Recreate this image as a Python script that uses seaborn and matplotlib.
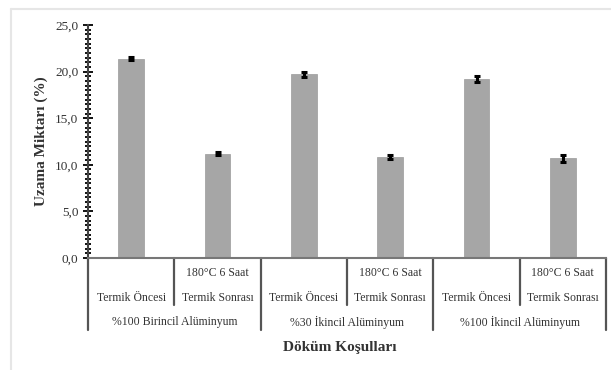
import matplotlib
matplotlib.use('Agg')
import matplotlib.pyplot as plt
import matplotlib.transforms as mtransforms
from matplotlib.ticker import MultipleLocator, FuncFormatter
import seaborn as sns
import pandas as pd

# data
bar_keys = ['A1', 'A2', 'B1', 'B2', 'C1', 'C2']
condition_top = ['', '180°C 6 Saat', '', '180°C 6 Saat', '', '180°C 6 Saat']
condition_bottom = ['Termik Öncesi', 'Termik Sonrası', 'Termik Öncesi',
                    'Termik Sonrası', 'Termik Öncesi', 'Termik Sonrası']
groups = ['%100 Birincil Alüminyum', '%30 İkincil Alüminyum', '%100 İkincil Alüminyum']
values = [21.4, 11.2, 19.7, 10.8, 19.2, 10.7]
errors = [0.2, 0.2, 0.25, 0.2, 0.3, 0.4]

df = pd.DataFrame({'kosul': bar_keys, 'uzama': values})

sns.set_style('white')
plt.rcParams['font.family'] = ['Liberation Serif', 'DejaVu Serif']

fig = plt.figure(figsize=(6.11, 3.70), dpi=100)
ax = fig.add_axes([88 / 611, (370 - 258) / 370, (606 - 88) / 611, (258 - 25) / 370])

sns.barplot(data=df, x='kosul', y='uzama', order=bar_keys, color='#a6a6a6',
            edgecolor='#9a9a9a', linewidth=0.5, width=0.3, saturation=1,
            errorbar=None, ax=ax)
ax.errorbar(range(len(values)), values, yerr=errors, fmt='none',
            ecolor='black', elinewidth=2.2, capsize=2.5, capthick=2.2)

ax.set_xlim(-0.5, len(values) - 0.5)
ax.set_ylim(0, 25)
ax.yaxis.set_major_locator(MultipleLocator(5))
ax.yaxis.set_minor_locator(MultipleLocator(0.5))
ax.yaxis.set_major_formatter(FuncFormatter(lambda v, p: f'{v:.1f}'.replace('.', ',')))
ax.tick_params(axis='y', which='major', direction='inout', length=7, width=1.3,
               colors='black', labelsize=9.5, left=True)
ax.tick_params(axis='y', which='minor', direction='inout', length=5, width=1.3,
               colors='black', left=True)
for lab in ax.get_yticklabels():
    lab.set_color('#333333')
ax.set_xticks([])
ax.set_xlabel('')
ax.set_ylabel('Uzama Miktarı (%)', fontsize=11, fontweight='bold', color='#333333',
              labelpad=5)

for s in ['top', 'right']:
    ax.spines[s].set_visible(False)
ax.spines['left'].set_color('#444444')
ax.spines['left'].set_linewidth(1.5)
ax.spines['bottom'].set_color('#777777')
ax.spines['bottom'].set_linewidth(1.5)

trans = mtransforms.blended_transform_factory(ax.transData, ax.transAxes)
h = 233.0
for i in range(len(values) + 1):
    x = i - 0.5
    y_end = -72 / h if i % 2 == 0 else -47 / h
    ax.plot([x, x], [0, y_end], color='#555555', lw=1.6, transform=trans,
            clip_on=False)

for i in range(len(values)):
    if condition_top[i]:
        ax.text(i, -15 / h, condition_top[i], transform=trans, ha='center',
                va='center', fontsize=8.5, color='#333333')
    ax.text(i, -40 / h, condition_bottom[i], transform=trans, ha='center',
            va='center', fontsize=8.5, color='#333333')
for j, g in enumerate(groups):
    ax.text(2 * j + 0.5, -64 / h, g, transform=trans, ha='center', va='center',
            fontsize=8.5, color='#333333')

ax.text(2.42, -90 / h, 'Döküm Koşulları', transform=trans, ha='center',
        va='center', fontsize=11, fontweight='bold', color='#333333')

# light frame lines of the original image
fig.add_artist(plt.Line2D([11 / 611, 1], [1 - 9 / 370, 1 - 9 / 370],
                          color='#e6e6e6', lw=1.5))
fig.add_artist(plt.Line2D([11 / 611, 11 / 611], [0, 1 - 9 / 370],
                          color='#e6e6e6', lw=1.5))

fig.savefig('out.png', dpi=100)
